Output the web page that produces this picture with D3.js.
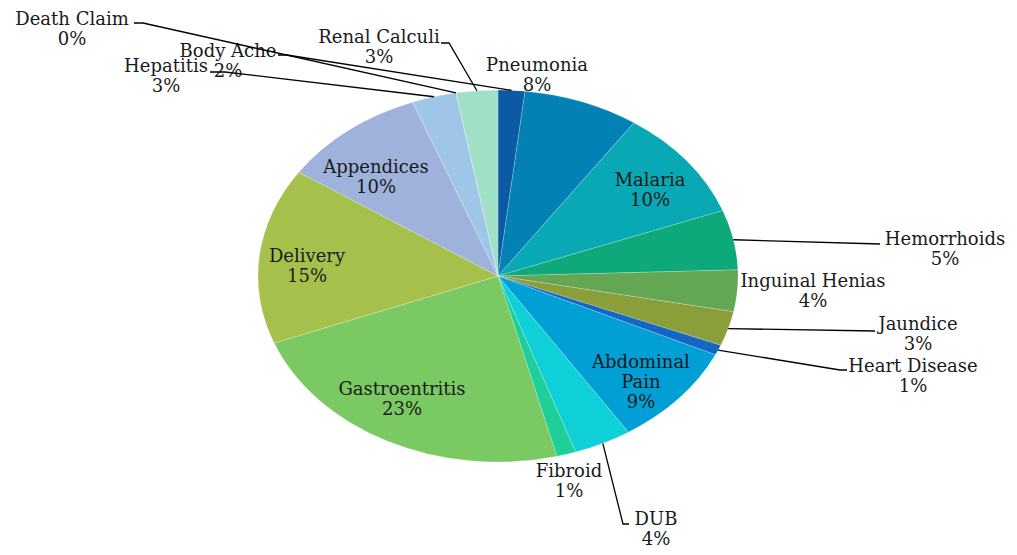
<!DOCTYPE html>
<html>
<head>
<meta charset="utf-8">
<script src="https://cdn.jsdelivr.net/npm/d3@7"></script>
<style>
  html, body { margin: 0; padding: 0; background: #fff; }
  svg { display: block; }
  text { font-family: "DejaVu Serif", "Liberation Serif", serif; font-size: 18px; fill: #1a1a1a; }
</style>
</head>
<body>
<svg id="chart" width="1017" height="555"></svg>
<script>
// ---- data (clockwise from 12 o'clock) ----
const categories = ["Body Ache","Pneumonia","Malaria","Hemorrhoids","Inguinal Henias","Jaundice","Heart Disease","Abdominal Pain","DUB","Fibroid","Gastroentritis","Delivery","Appendices","Hepatitis","Death Claim","Renal Calculi"];
const values = [1.8, 7.8, 9.7, 5.2, 3.6, 3.0, 0.9, 8.9, 3.9, 1.3, 23.1, 15.3, 9.8, 3.0, 0.0, 2.8];
const colors = ["#0b5aa3","#0381b4","#08a9b4","#0ea97a","#63a654","#8a9e3a","#1466c4","#00a0d6","#0fcfd8","#1ecf99","#7bc963","#a6c14b","#9eb2dc","#9fc6e8","#9ed6d6","#a0e0c6"];

// ---- layout (label placement, not data) ----
const cx = 498, cy = 276, rx = 240, ry = 186;
const lineGap = 20;
const labelLayout = {
  "Body Ache":       {x: 228, y: 57,  lines: ["Body Ache"],          leader: [[287,55],[278,55]]},
  "Pneumonia":       {x: 537, y: 71,  lines: ["Pneumonia"]},
  "Malaria":         {x: 650, y: 186, lines: ["Malaria"]},
  "Hemorrhoids":     {x: 945, y: 245, lines: ["Hemorrhoids"],        leader: [[880,244]]},
  "Inguinal Henias": {x: 813, y: 287, lines: ["Inguinal Henias"]},
  "Jaundice":        {x: 918, y: 330, lines: ["Jaundice"],           leader: [[875,331]]},
  "Heart Disease":   {x: 913, y: 372, lines: ["Heart Disease"],      leader: [[840,370],[847,370]]},
  "Abdominal Pain":  {x: 641, y: 368, lines: ["Abdominal","Pain"]},
  "DUB":             {x: 656, y: 525, lines: ["DUB"],                leader: [[623,524],[629,524]]},
  "Fibroid":         {x: 569, y: 477, lines: ["Fibroid"]},
  "Gastroentritis":  {x: 402, y: 395, lines: ["Gastroentritis"]},
  "Delivery":        {x: 307, y: 262, lines: ["Delivery"]},
  "Appendices":      {x: 376, y: 173, lines: ["Appendices"]},
  "Hepatitis":       {x: 166, y: 72,  lines: ["Hepatitis"],          leader: [[225,72],[210,72]]},
  "Death Claim":     {x: 72,  y: 25,  lines: ["Death Claim"],        leader: [[143,23],[134,23]]},
  "Renal Calculi":   {x: 379, y: 43,  lines: ["Renal Calculi"],      leader: [[449,43],[441,43]]}
};

const data = categories.map((c, i) => ({name: c, value: values[i], color: colors[i]}));
const total = d3.sum(values);

const svg = d3.select("#chart");
const pie = d3.pie().sort(null).value(d => d.value).startAngle(0).endAngle(2 * Math.PI);
const arcs = pie(data);
const arc = d3.arc().innerRadius(0).outerRadius(ry);

// pie drawn on a circle, stretched horizontally into the ellipse
const pieG = svg.append("g").attr("transform", `translate(${cx},${cy}) scale(${rx / ry},1)`);
pieG.selectAll("path").data(arcs).join("path")
  .attr("d", arc)
  .attr("fill", d => d.data.color)
  .attr("stroke", "#ffffff")
  .attr("stroke-opacity", 0.35)
  .attr("stroke-width", 0.6)
  .attr("vector-effect", "non-scaling-stroke");

// labels
const labelG = svg.append("g");
arcs.forEach(a => {
  const L = labelLayout[a.data.name];
  const pct = Math.round(a.data.value / total * 100) + "%";
  const lines = L.lines.concat([pct]);
  const t = labelG.append("text").attr("text-anchor", "middle");
  lines.forEach((s, i) => {
    t.append("tspan").attr("x", L.x).attr("y", L.y + i * lineGap).text(s);
  });
});

// leader lines: from the slice's mid-angle on the ellipse edge to the label
const lineG = svg.append("g");
arcs.forEach(a => {
  const L = labelLayout[a.data.name];
  if (!L.leader) return;
  const mid = (a.startAngle + a.endAngle) / 2;
  const p0 = [cx + rx * Math.sin(mid), cy - ry * Math.cos(mid)];
  const pts = [p0].concat(L.leader);
  lineG.append("path")
    .attr("d", d3.line()(pts))
    .attr("fill", "none")
    .attr("stroke", "#000")
    .attr("stroke-width", 1.3);
});
</script>
</body>
</html>
